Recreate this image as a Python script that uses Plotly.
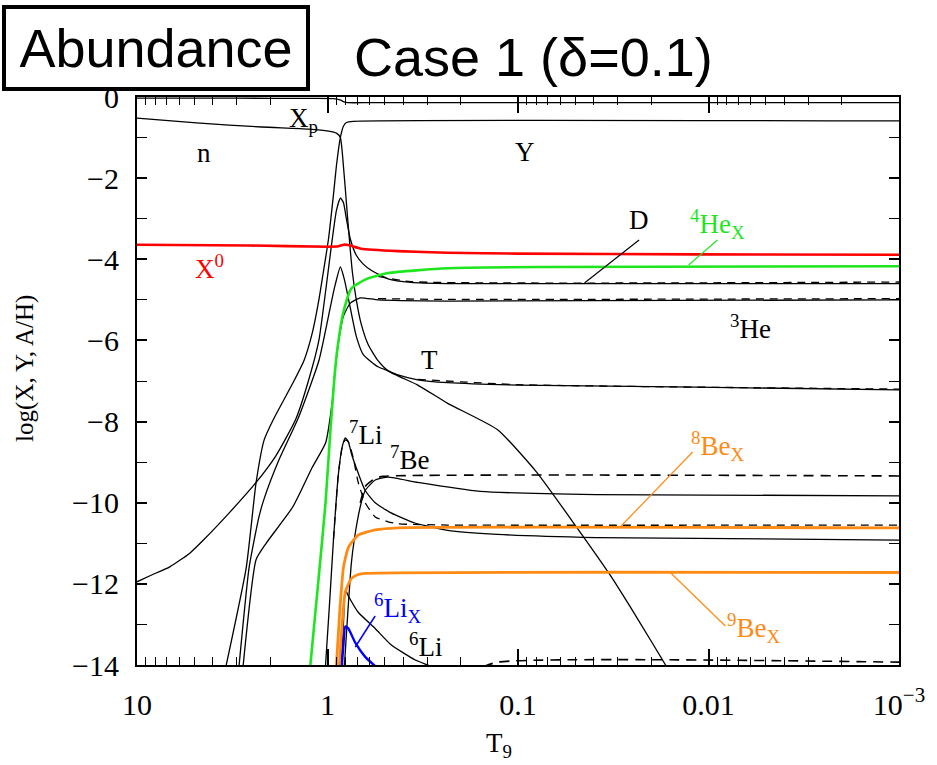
import plotly.graph_objects as go

# ---------------- data (T9, log abundance) ----------------
p_t9 = [10, 3, 1.2, 0.93, 0.86, 0.82, 0.78, 0.6, 0.1, 0.001]
p_val = [-0.03, -0.03, -0.035, -0.04, -0.07, -0.12, -0.14, -0.14, -0.14, -0.14]

n_t9 = [10, 4.87, 2.21, 1.26, 0.988, 0.898, 0.856, 0.825, 0.796, 0.768, 0.741, 0.706,
        0.665, 0.612, 0.543, 0.481, 0.336, 0.234, 0.128, 0.0797, 0.0493, 0.0332, 0.024, 0.0168, 0.0149]
n_val = [-0.52, -0.64, -0.74, -0.79, -0.84, -0.89, -1.0, -1.7, -2.6, -3.5, -4.3, -5.0,
         -5.6, -6.1, -6.5, -6.75, -7.1, -7.55, -8.2, -9.25, -10.6, -11.75, -12.8, -14.0, -14.4]

Y_t9 = [3.40, 2.67, 2.37, 2.15, 1.93, 1.52, 1.33, 1.20, 1.11, 1.05, 0.988, 0.930, 0.898,
        0.856, 0.825, 0.796, 0.732, 0.001]
Y_val = [-14, -11.6, -9.5, -8.45, -7.96, -7.05, -6.5, -5.8, -5.0, -4.3, -3.5, -2.4, -1.7,
         -1.0, -0.72, -0.63, -0.6, -0.59]

D_t9 = [10, 8.55, 6.73, 5.30, 4.48, 3.28, 2.37, 1.87, 1.47, 1.26, 1.11, 1.024, 0.953, 0.898, 0.856,
        0.825, 0.796, 0.759, 0.706, 0.649, 0.590, 0.481, 0.365, 0.234, 0.001]
D_val = [-11.95, -11.8, -11.58, -11.25, -10.92, -10.25, -9.5, -8.85, -7.95, -7.0, -6.0, -4.8, -3.65,
         -2.8, -2.49, -2.6, -3.0, -3.5, -3.9, -4.12, -4.27, -4.48, -4.57, -4.6, -4.6]
D_std_t9 = [0.543, 0.365, 0.001]
D_std_val = [-4.42, -4.55, -4.56]

T_t9 = [2.91, 2.58, 2.29, 2.15, 1.80, 1.42, 1.11, 0.988, 0.919, 0.856, 0.815, 0.759, 0.706,
        0.649, 0.543, 0.481, 0.427, 0.336, 0.234, 0.1, 0.0117, 0.001]
T_val = [-14, -11.6, -10.35, -9.9, -8.95, -7.9, -6.5, -5.4, -4.7, -4.19, -4.5, -5.2, -5.9,
         -6.35, -6.65, -6.75, -6.85, -6.97, -7.04, -7.1, -7.15, -7.22]
T_std_t9 = [0.336, 0.1, 0.001]
T_std_val = [-6.96, -7.09, -7.2]

He3_t9 = [2.77, 2.37, 2.10, 1.52, 1.20, 1.024, 0.942, 0.909, 0.866, 0.825, 0.759, 0.673,
          0.543, 0.234, 0.001]
He3_val = [-14, -11.4, -11.0, -10.1, -9.12, -8.53, -7.47, -6.65, -5.9, -5.4, -5.08, -4.95,
           -5.0, -5.03, -5.0]
He3_std_t9 = [0.543, 0.234, 0.001]
He3_std_val = [-4.97, -4.99, -4.97]

Li7_t9 = [1.024, 0.976, 0.930, 0.877, 0.835, 0.806, 0.777, 0.750, 0.690, 0.634, 0.562, 0.464,
          0.348, 0.234, 0.128, 0.0388, 0.001]
Li7_val = [-14, -12.5, -10.9, -9.3, -8.6, -8.4, -8.5, -8.78, -9.27, -9.7, -10.0, -10.25,
           -10.5, -10.68, -10.78, -10.86, -10.92]
Li7_std_t9 = [0.930, 0.877, 0.835, 0.806, 0.777, 0.732, 0.690, 0.634, 0.562, 0.481, 0.427, 0.234, 0.001]
Li7_std_val = [-10.9, -9.3, -8.6, -8.45, -8.5, -8.9, -9.5, -10.0, -10.35, -10.47, -10.52, -10.55, -10.55]

Be7_t9 = [0.815, 0.777, 0.750, 0.723, 0.673, 0.634, 0.562, 0.481, 0.336, 0.158, 0.0388, 0.001]
Be7_val = [-14, -12.5, -11.5, -10.9, -10.1, -9.7, -9.44, -9.37, -9.5, -9.72, -9.8, -9.83]
Be7_std_t9 = [0.673, 0.634, 0.562, 0.511, 0.001]
Be7_std_val = [-10.0, -9.6, -9.4, -9.35, -9.34]

Li6_t9 = [0.846, 0.825, 0.806, 0.777, 0.690, 0.562, 0.464, 0.348, 0.298, 0.264]
Li6_val = [-14, -13.0, -12.15, -12.3, -12.7, -13.1, -13.5, -13.87, -14.0, -14.1]
Li6_std_t9 = [0.184, 0.128, 0.001]
Li6_std_val = [-14.2, -13.93, -13.93]

Li6X_t9 = [0.846, 0.825, 0.806, 0.777, 0.715, 0.634, 0.555]
Li6X_val = [-14.2, -13.5, -13.05, -13.1, -13.45, -13.8, -14.05]

Be8X_t9 = [0.898, 0.866, 0.825, 0.777, 0.690, 0.562, 0.427, 0.001]
Be8X_val = [-14, -12.8, -11.6, -11.1, -10.8, -10.67, -10.62, -10.62]

Be9X_t9 = [0.866, 0.835, 0.806, 0.750, 0.690, 0.634, 0.001]
Be9X_val = [-14, -12.9, -12.2, -11.87, -11.77, -11.74, -11.72]

He4X_t9 = [1.23, 1.11, 1.024, 0.965, 0.919, 0.887, 0.825, 0.750, 0.634, 0.481, 0.234, 0.0706, 0.001]
He4X_val = [-14, -11.8, -10.0, -8.2, -6.9, -6.2, -5.3, -4.72, -4.5, -4.34, -4.22, -4.19, -4.17]

X0_t9 = [10, 2.58, 0.988, 0.877, 0.825, 0.777, 0.665, 0.427, 0.234, 0.1, 0.0117, 0.001]
X0_val = [-3.64, -3.66, -3.69, -3.68, -3.64, -3.65, -3.74, -3.8, -3.84, -3.86, -3.88, -3.89]

x_tickvals = [10, 1, 0.1, 0.01, 0.001]
x_ticktext = ["10", "1", "0.1", "0.01", "10<sup>\u22123</sup>"]
x_minor = [d * k for d in (0.001, 0.01, 0.1, 1) for k in range(2, 10)]
y_tickvals = list(range(-14, 1, 2))
y_minor = list(range(-13, 0, 2))

RED = "#ff0000"
GREEN = "#1ee61e"
ORANGE = "#ff8a14"
BLUE = "#0000ff"
BLACK = "black"

fig = go.Figure()


def add(x, y, color, width, dash="solid"):
    fig.add_trace(go.Scatter(x=x, y=y, mode="lines",
                             line=dict(color=color, width=width, dash=dash,
                                       shape="spline", smoothing=0.5),
                             showlegend=False, hoverinfo="skip"))


add(p_t9, p_val, BLACK, 1.3)
add(n_t9, n_val, BLACK, 1.3)
add(Y_t9, Y_val, BLACK, 1.3)
add(D_t9, D_val, BLACK, 1.3)
add(D_std_t9, D_std_val, BLACK, 1.3, "8px,6px")
add(T_t9, T_val, BLACK, 1.3)
add(T_std_t9, T_std_val, BLACK, 1.3, "8px,6px")
add(He3_t9, He3_val, BLACK, 1.3)
add(He3_std_t9, He3_std_val, BLACK, 1.3, "8px,6px")
add(Li7_t9, Li7_val, BLACK, 1.3)
add(Li7_std_t9, Li7_std_val, BLACK, 1.3, "8px,6px")
add(Be7_t9, Be7_val, BLACK, 1.3)
add(Be7_std_t9, Be7_std_val, BLACK, 1.6, "10px,7px")
add(Li6_t9, Li6_val, BLACK, 1.3)
add(Li6_std_t9, Li6_std_val, BLACK, 1.6, "10px,7px")
add(X0_t9, X0_val, RED, 2.6)
add(He4X_t9, He4X_val, GREEN, 2.6)
add(Be8X_t9, Be8X_val, ORANGE, 2.8)
add(Be9X_t9, Be9X_val, ORANGE, 2.8)
add(Li6X_t9, Li6X_val, BLUE, 2.4)

SERIF = "Liberation Serif"

fig.update_layout(
    width=937, height=765,
    margin=dict(l=137, r=32, t=97, b=100),
    paper_bgcolor="white", plot_bgcolor="white",
    showlegend=False,
    font=dict(family=SERIF, size=26, color="black"),
)

fig.update_xaxes(
    type="log", range=[1, -3], showline=True, linecolor="black", linewidth=2,
    mirror="allticks", ticks="inside", ticklen=16, tickwidth=1.5, tickcolor="black",
    tickmode="array", tickvals=x_tickvals, ticktext=x_ticktext,
    showgrid=False, zeroline=False, ticklabelstandoff=12,
    tickfont=dict(family=SERIF, size=30),
    minor=dict(tickmode="array", tickvals=x_minor, ticks="inside", ticklen=8,
               tickwidth=1.2, tickcolor="black", showgrid=False),
)
fig.update_yaxes(
    range=[-14, 0], showline=True, linecolor="black", linewidth=2,
    mirror="allticks", ticks="inside", ticklen=10, tickwidth=1.5, tickcolor="black",
    tickmode="array", tickvals=y_tickvals,
    showgrid=False, zeroline=False, ticklabelstandoff=10,
    tickfont=dict(family=SERIF, size=30),
    minor=dict(tickmode="array", tickvals=y_minor, ticks="inside", ticklen=10,
               tickwidth=1.2, tickcolor="black", showgrid=False),
)

W, H, L, T = 768.0, 568.0, 137.0, 97.0


def px(x):
    return (x - L) / W


def py(y):
    return (T + H - y) / H


def label(text, x, y, color="black", size=26, family=SERIF, **kw):
    fig.add_annotation(text=text, x=px(x), y=py(y), xref="paper", yref="paper",
                       showarrow=False, font=dict(family=family, size=size, color=color),
                       xanchor="center", yanchor="middle", **kw)


def leader(x0, y0, x1, y1, color, width=1.2):
    fig.add_shape(type="line", xref="paper", yref="paper",
                  x0=px(x0), y0=py(y0), x1=px(x1), y1=py(y1),
                  line=dict(color=color, width=width))


# titles
label("Abundance", 156, 48, family="Liberation Sans", size=54,
      bordercolor="black", borderwidth=4, borderpad=0, width=300, height=78)
label("Case 1 (\u03b4=0.1)", 537, 57, family="Liberation Sans", size=54)
label("log(X, Y, A/H)", 24, 368, size=25, textangle=-90)
label("T<sub>9</sub>", 502, 745, size=27)

# curve labels
label("X<sub>p</sub>", 305, 120, size=27)
label("n", 205, 153, size=27)
label("Y", 528, 152, size=27)
label("D", 643, 220, size=27)
label("<sup>4</sup>He<sub>X</sub>", 722, 224, color=GREEN, size=27)
label("<sup>3</sup>He", 755, 327, size=27)
label("T", 432, 360, size=27)
label("X<sup>0</sup>", 210, 267, color=RED, size=27)
label("<sup>7</sup>Li", 367, 433, size=27)
label("<sup>7</sup>Be", 412, 458, size=27)
label("<sup>8</sup>Be<sub>X</sub>", 722, 446, color=ORANGE, size=27)
label("<sup>9</sup>Be<sub>X</sub>", 758, 628, color=ORANGE, size=27)
label("<sup>6</sup>Li<sub>X</sub>", 400, 608, color=BLUE, size=27)
label("<sup>6</sup>Li", 428, 645, size=27)

leader(643, 240, 588, 283, "black")
leader(722, 240, 693, 265, GREEN)
leader(697, 452, 623, 528, ORANGE)
leader(730, 626, 675, 573, ORANGE)
leader(377, 616, 357, 647, BLUE, 1.5)

fig.write_html("out.html")
